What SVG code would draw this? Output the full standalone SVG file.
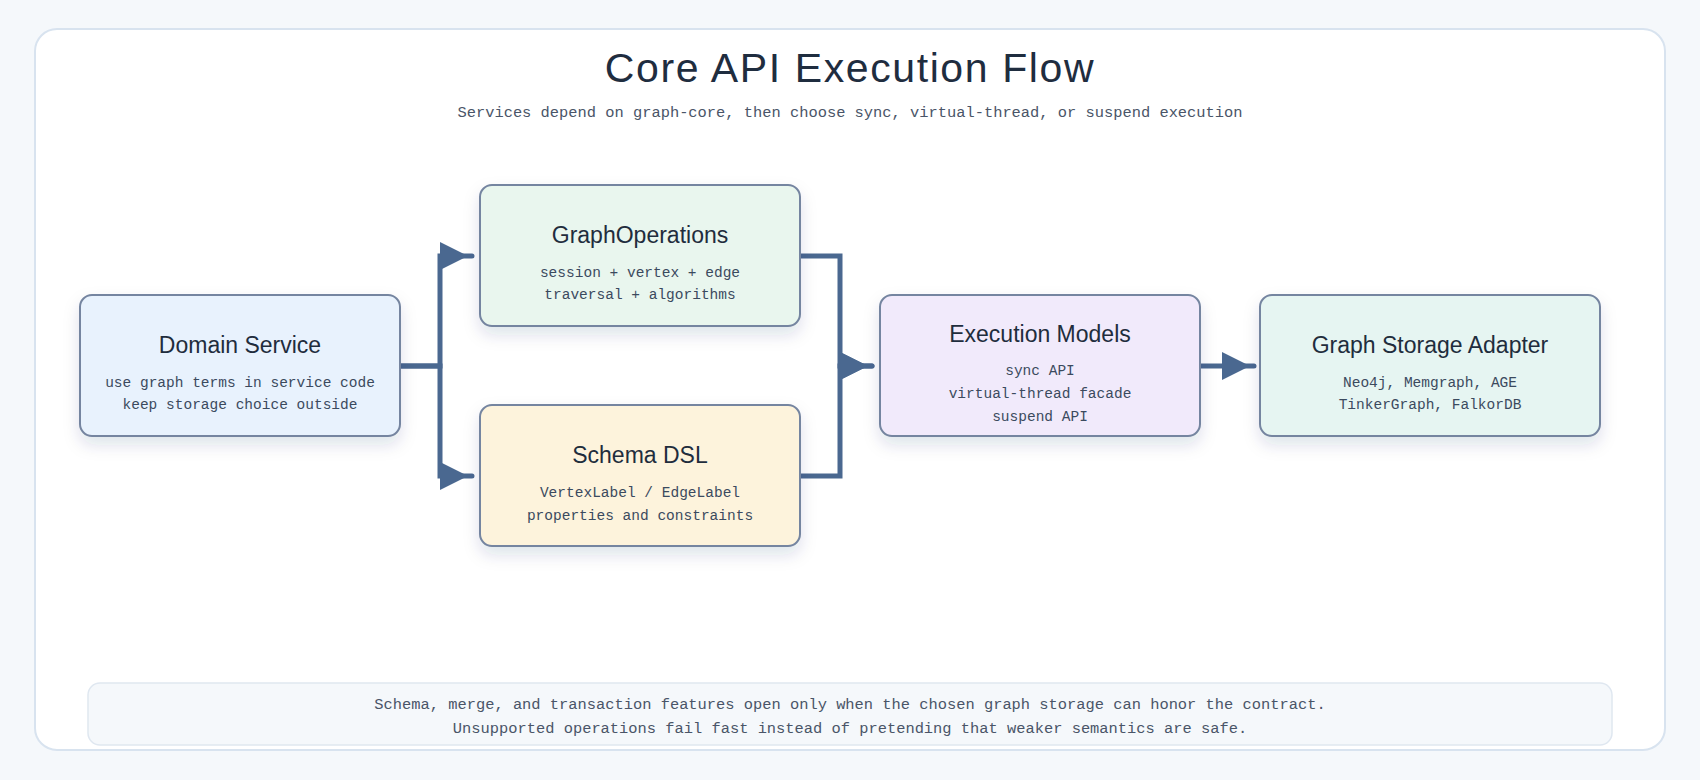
<svg xmlns="http://www.w3.org/2000/svg" width="1700" height="780" viewBox="0 0 1700 780">
  <style>
    .title { font-family: "Liberation Sans", "DejaVu Sans", sans-serif; font-size: 41px; letter-spacing: 1.6px; fill: #1f2d3f; text-anchor: middle; }
    .subtitle { font-family: "Liberation Mono", "DejaVu Sans Mono", monospace; font-size: 15.4px; fill: #4a5568; text-anchor: middle; }
    .node rect { stroke: #7585a0; stroke-width: 2; }
    .ntitle { font-family: "Liberation Sans", "DejaVu Sans", sans-serif; font-size: 23px; fill: #1f2d3d; text-anchor: middle; }
    .nsub { font-family: "Liberation Mono", "DejaVu Sans Mono", monospace; font-size: 14.5px; fill: #3b4a5e; text-anchor: middle; }
    .conn path { fill: none; stroke: #4a6890; stroke-width: 5; stroke-linejoin: miter; stroke-linecap: round; }
    .note { font-family: "Liberation Mono", "DejaVu Sans Mono", monospace; font-size: 15.4px; fill: #4a5568; text-anchor: middle; }
  </style>
  <defs>
    <filter id="shadow" x="-20%" y="-20%" width="140%" height="150%">
      <feDropShadow dx="0" dy="8" stdDeviation="8" flood-color="#1e3a5f" flood-opacity="0.13"/>
    </filter>
    <marker id="arrow" markerUnits="userSpaceOnUse" markerWidth="32" markerHeight="28" viewBox="0 0 32 28" refX="32" refY="14" orient="auto">
      <path d="M0,0 L28,14 L0,28 z" fill="#4a6890"/>
    </marker>
  </defs>

  <rect x="0" y="0" width="1700" height="780" fill="#f5f8fb"/>
  <rect x="35" y="29" width="1630" height="721" rx="22" fill="#ffffff" stroke="#d8e3ef" stroke-width="2"/>

  <text class="title" x="850" y="82">Core API Execution Flow</text>
  <text class="subtitle" x="850" y="117">Services depend on graph-core, then choose sync, virtual-thread, or suspend execution</text>

  <g id="connectors" class="conn">
    <path d="M400,366 H440 V256 H472" marker-end="url(#arrow)"/>
    <path d="M400,366 H440 V476 H472" marker-end="url(#arrow)"/>
    <path d="M800,256 H840 V366 H872" marker-end="url(#arrow)"/>
    <path d="M800,476 H840 V366 H872" marker-end="url(#arrow)"/>
    <path d="M1200,366 H1254" marker-end="url(#arrow)"/>
  </g>

  <g id="domain-service" class="node">
    <rect x="80" y="295" width="320" height="141" rx="12" fill="#e8f2fd" filter="url(#shadow)"/>
    <text class="ntitle" x="240" y="353">Domain Service</text>
    <text class="nsub" x="240" y="387">use graph terms in service code</text>
    <text class="nsub" x="240" y="409">keep storage choice outside</text>
  </g>

  <g id="graph-operations" class="node">
    <rect x="480" y="185" width="320" height="141" rx="12" fill="#e9f6ee" filter="url(#shadow)"/>
    <text class="ntitle" x="640" y="243">GraphOperations</text>
    <text class="nsub" x="640" y="277">session + vertex + edge</text>
    <text class="nsub" x="640" y="299">traversal + algorithms</text>
  </g>

  <g id="schema-dsl" class="node">
    <rect x="480" y="405" width="320" height="141" rx="12" fill="#fdf3dc" filter="url(#shadow)"/>
    <text class="ntitle" x="640" y="463">Schema DSL</text>
    <text class="nsub" x="640" y="497">VertexLabel / EdgeLabel</text>
    <text class="nsub" x="640" y="520">properties and constraints</text>
  </g>

  <g id="execution-models" class="node">
    <rect x="880" y="295" width="320" height="141" rx="12" fill="#f1eafb" filter="url(#shadow)"/>
    <text class="ntitle" x="1040" y="342">Execution Models</text>
    <text class="nsub" x="1040" y="375">sync API</text>
    <text class="nsub" x="1040" y="398">virtual-thread facade</text>
    <text class="nsub" x="1040" y="421">suspend API</text>
  </g>

  <g id="graph-storage-adapter" class="node">
    <rect x="1260" y="295" width="340" height="141" rx="12" fill="#e6f5f2" filter="url(#shadow)"/>
    <text class="ntitle" x="1430" y="353">Graph Storage Adapter</text>
    <text class="nsub" x="1430" y="387">Neo4j, Memgraph, AGE</text>
    <text class="nsub" x="1430" y="409">TinkerGraph, FalkorDB</text>
  </g>

  <g id="note">
    <rect x="88" y="683" width="1524" height="62" rx="12" fill="#f5f8fb" stroke="#dfe7f0" stroke-width="1.5"/>
    <text class="note" x="850" y="709">Schema, merge, and transaction features open only when the chosen graph storage can honor the contract.</text>
    <text class="note" x="850" y="733">Unsupported operations fail fast instead of pretending that weaker semantics are safe.</text>
  </g>
</svg>
